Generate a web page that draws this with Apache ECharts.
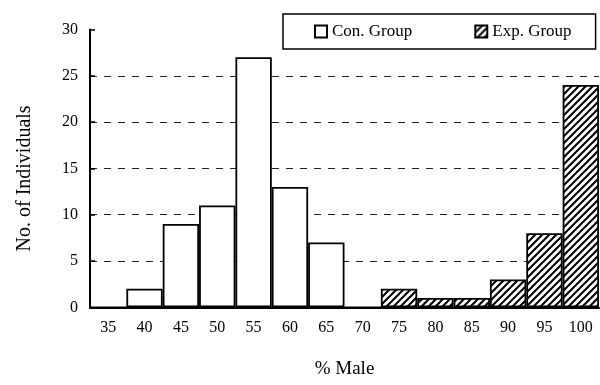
<!DOCTYPE html>
<html>
<head>
<meta charset="utf-8">
<script src="https://cdn.jsdelivr.net/npm/echarts@6/dist/echarts.min.js"></script>
<style>html,body{margin:0;padding:0;background:#fff;}#c{width:600px;height:385px;}</style>
</head>
<body>
<div id="c"></div>
<script>
const categories = ['35','40','45','50','55','60','65','70','75','80','85','90','95','100'];
const conGroup = [0, 2, 9, 11, 27, 13, 7, 0, '-', '-', '-', '-', '-', '-'];
const expGroup = ['-', '-', '-', '-', '-', '-', '-', '-', 2, 1, 1, 3, 8, 24];
const yTicks = [0, 5, 10, 15, 20, 25, 30];

function hatch() {
  const c = document.createElement('canvas');
  c.width = 7; c.height = 7;
  const g = c.getContext('2d');
  g.fillStyle = '#fff'; g.fillRect(0, 0, 7, 7);
  g.strokeStyle = '#000'; g.lineWidth = 2;
  g.beginPath();
  g.moveTo(-1, 8); g.lineTo(8, -1);
  g.moveTo(-1, 1); g.lineTo(1, -1);
  g.moveTo(6, 8); g.lineTo(8, 6);
  g.stroke();
  return c;
}

const FONT = '"Liberation Serif", "Times New Roman", serif';
const chart = echarts.init(document.getElementById('c'), null, {renderer: 'canvas'});
chart.setOption({
  animation: false,
  backgroundColor: '#fff',
  textStyle: {fontFamily: FONT, color: '#000'},
  grid: {left: 90, right: 1, top: 29.5, bottom: 77.7},
  legend: {
    left: 283, top: 14,
    padding: [9, 24, 9, 31],
    itemGap: 62,
    icon: 'rect',
    itemWidth: 12, itemHeight: 12,
    borderColor: '#000', borderWidth: 1.5,
    backgroundColor: '#fff',
    textStyle: {fontFamily: FONT, fontSize: 17, color: '#000'},
    data: ['Con. Group', 'Exp. Group']
  },
  xAxis: {
    type: 'category',
    data: categories,
    name: '% Male',
    nameLocation: 'middle',
    nameGap: 52,
    nameTextStyle: {fontFamily: FONT, fontSize: 19, color: '#000'},
    axisLine: {lineStyle: {color: '#000', width: 2}},
    axisTick: {show: false},
    axisLabel: {fontFamily: FONT, fontSize: 16, color: '#000', margin: 12}
  },
  yAxis: {
    type: 'value',
    min: yTicks[0], max: yTicks[yTicks.length - 1], interval: 5,
    name: 'No. of Individuals',
    nameLocation: 'middle',
    nameGap: 55,
    nameTextStyle: {fontFamily: FONT, fontSize: 20, color: '#000', padding: [0, 20, 0, 0]},
    axisLine: {show: true, lineStyle: {color: '#000', width: 2}},
    axisTick: {show: true, inside: true, length: 5, lineStyle: {color: '#000', width: 1.5}},
    axisLabel: {fontFamily: FONT, fontSize: 16, color: '#000', margin: 12},
    splitLine: {show: true, lineStyle: {color: ['transparent', '#222', '#222', '#222', '#222', '#222', 'transparent'], type: [7, 7], width: 1}}
  },
  series: [
    {
      name: 'Con. Group', type: 'bar', data: conGroup,
      barCategoryGap: 0, barGap: '-100%',
      itemStyle: {color: '#fff', borderColor: '#000', borderWidth: 1.8}
    },
    {
      name: 'Exp. Group', type: 'bar', data: expGroup,
      barCategoryGap: 0, barGap: '-100%',
      itemStyle: {color: {image: hatch(), repeat: 'repeat'}, borderColor: '#000', borderWidth: 1.8}
    }
  ]
});
</script>
</body>
</html>
